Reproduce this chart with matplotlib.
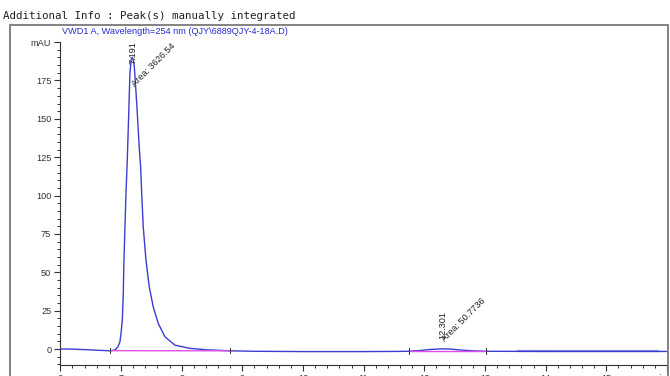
import numpy as np
import matplotlib
matplotlib.use("Agg")
import matplotlib.pyplot as plt
from matplotlib.patches import Rectangle
from matplotlib.ticker import MultipleLocator

# chromatogram trace (min, mAU)
time = [6.00, 6.20, 6.40, 6.60, 6.82, 6.90, 6.95, 6.983, 7.00, 7.022, 7.038,
        7.049, 7.066, 7.082, 7.104, 7.125, 7.148, 7.17, 7.186, 7.20, 7.22,
        7.26, 7.30, 7.325, 7.341, 7.367, 7.412, 7.466, 7.532, 7.615, 7.725,
        7.89, 8.137, 8.40, 8.80, 9.20, 9.60, 10.0, 11.0, 11.5, 11.74, 11.90,
        12.10, 12.30, 12.45, 12.60, 12.80, 13.02, 14.0, 15.0, 16.0]
signal = [0.1, 0.0, -0.3, -0.7, -1.1, -0.6, 1.5, 4.8, 10.0, 18.9, 36.0,
          58.0, 79.6, 101.0, 123.0, 150.0, 180.0, 189.0, 190.0, 189.0, 184.0,
          160.0, 132.0, 118.0, 102.0, 79.6, 58.0, 40.6, 27.5, 16.7, 8.0,
          2.6, 0.5, -0.4, -1.1, -1.4, -1.5, -1.6, -1.6, -1.5, -1.4, -1.0,
          -0.2, 0.2, 0.0, -0.6, -1.1, -1.4, -1.5, -1.5, -1.5]

# integration baselines (start/end)
base_t = [[6.82, 8.80], [11.74, 13.02]]
base_y = [[-1.0, -1.1], [-1.4, -1.4]]

# pale overlay segment at the end of the run
pale_t = [13.55, 15.85]
pale_y = [-1.5, -1.5]

peak_rt = [7.191, 12.301]
peak_top = [186, 6.5]
peak_area = ["3626.54", "50.7736"]
area_x = [7.259, 12.366]
area_y = [169.7, 3.7]

xticks = [6, 7, 8, 9, 10, 11, 12, 13, 14, 15, 16]
xlabels = ["6", "7", "8", "9", "10", "11", "12", "13", "14", "15", "min"]
yticks = [0, 25, 50, 75, 100, 125, 150, 175, 200]
ylabels = ["0", "25", "50", "75", "100", "125", "150", "175", "mAU"]

plt.rcParams['font.family'] = ['Liberation Sans', 'DejaVu Sans']

fig = plt.figure(figsize=(6.7, 3.76), dpi=100)
ax = fig.add_axes([0.090, 0.029, 0.9055, 0.859])

ax.plot(time, signal, color='#3c3cd0', lw=1.0, zorder=3)
ax.plot(pale_t, pale_y, color='#9a9ae8', lw=1.6, zorder=2)
for bt, by in zip(base_t, base_y):
    ax.plot(bt, by, color='#e050e8', lw=1.0, zorder=4)
    for t, y in zip(bt, by):
        ax.plot([t, t], [y - 1.5, y + 2.0], color='#333333', lw=0.7, zorder=5)

# peak annotations
for rt, top, area, axx, ayy in zip(peak_rt, peak_top, peak_area, area_x, area_y):
    ax.text(rt, top, "%.3f" % rt, rotation=90, ha='center', va='bottom',
            fontsize=6.6, color='#222222', zorder=6)
    ax.text(axx, ayy, "Area: " + area, rotation=45, rotation_mode='anchor',
            ha='left', va='bottom', fontsize=6.6, color='#222222', zorder=6)

ax.set_xlim(6, 16)
ax.set_ylim(-10.4, 200)
ax.set_xticks(xticks)
ax.set_xticklabels(xlabels)
ax.set_yticks(yticks)
ax.set_yticklabels(ylabels)
ax.get_xticklabels()[-1].set_ha('right')
ax.xaxis.set_minor_locator(MultipleLocator(0.2))
ax.yaxis.set_minor_locator(MultipleLocator(5))
ax.tick_params(axis='both', which='major', length=4.5, width=0.8,
               labelsize=6.6, colors='#333333', pad=2)
ax.tick_params(axis='both', which='minor', length=2.4, width=0.7, colors='#333333')

for s in ['top', 'right']:
    ax.spines[s].set_visible(False)
for s in ['left', 'bottom']:
    ax.spines[s].set_color('#333333')
    ax.spines[s].set_linewidth(0.8)

# outer report frame
fig.add_artist(Rectangle((10 / 670, -0.1), 658 / 670, 1.1 - 25.5 / 376,
                         transform=fig.transFigure, fill=False,
                         edgecolor='#7a7a7a', lw=1.3))

fig.text(3 / 670, 1 - 16 / 376, "Additional Info : Peak(s) manually integrated",
         family='DejaVu Sans Mono', fontsize=7.8, color='#222222',
         ha='left', va='center')
fig.text(175 / 670, 1 - 31.5 / 376,
         "VWD1 A, Wavelength=254 nm (QJY\\6889QJY-4-18A.D)",
         fontsize=6.6, color='#2a2ad0', ha='center', va='center')

fig.savefig("out.png", dpi=100)
